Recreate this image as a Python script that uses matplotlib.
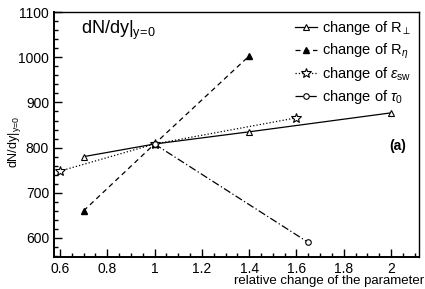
import numpy as np
import matplotlib
matplotlib.use('Agg')
import matplotlib.pyplot as plt
from matplotlib.ticker import MultipleLocator

plt.rcParams['font.family'] = ['Liberation Sans', 'DejaVu Sans']
plt.rcParams['mathtext.fontset'] = 'custom'
plt.rcParams['mathtext.rm'] = 'Liberation Sans'
plt.rcParams['mathtext.it'] = 'Liberation Sans:italic'
plt.rcParams['mathtext.sf'] = 'Liberation Sans'

# 数据
x_rperp = [0.7, 1.0, 1.4, 2.0]
y_rperp = [780, 808, 835, 877]
x_reta = [0.7, 1.0, 1.4]
y_reta = [660, 808, 1003]
x_esw = [0.6, 1.0, 1.6]
y_esw = [748, 808, 866]
x_tau = [1.0, 1.65]
y_tau = [808, 590]
labels = [r'change of R$_{\perp}$', r'change of R$_{\eta}$',
          r'change of $\epsilon_{\mathrm{sw}}$', r'change of $\tau_{0}$']
xticks = [0.6, 0.8, 1.0, 1.2, 1.4, 1.6, 1.8, 2.0]
xticklabels = ['0.6', '0.8', '1', '1.2', '1.4', '1.6', '1.8', '2']

fig = plt.figure(figsize=(4.25, 2.89), dpi=100)
ax = fig.add_axes([0.127, 0.111, 0.859, 0.847])

ax.plot(x_rperp, y_rperp, '-', color='black', lw=0.9, marker='^', ms=5,
        mfc='white', mec='black', mew=0.8, label=labels[0])
ax.plot(x_reta, y_reta, '--', color='black', lw=0.9, dashes=(4, 3), marker='^',
        ms=4, mfc='black', mec='black', label=labels[1])
ax.plot(x_esw, y_esw, ':', color='black', lw=0.9, marker='*', ms=7,
        mfc='white', mec='black', mew=0.8, label=labels[2])
ax.plot(x_tau, y_tau, color='black', lw=0.9, linestyle=(0, (6, 2, 1, 2)),
        marker='o', ms=4, mfc='white', mec='black', mew=0.8, label=labels[3])

ax.set_xlim(0.575, 2.118)
ax.set_ylim(558, 1100)
ax.xaxis.set_minor_locator(MultipleLocator(0.05))
ax.yaxis.set_major_locator(MultipleLocator(100))
ax.yaxis.set_minor_locator(MultipleLocator(20))
ax.tick_params(which='both', direction='in', top=False, right=False, labelsize=10)
ax.tick_params(which='major', length=6, width=1)
ax.tick_params(which='minor', length=3, width=1)
ax.set_xticks(xticks)
ax.set_xticklabels(xticklabels)
for s in ax.spines.values():
    s.set_linewidth(1.0)
ax.spines['left'].set_linewidth(1.4)
ax.spines['bottom'].set_linewidth(1.4)

fig.text(0.997, 0.028, 'relative change of the parameter', fontsize=9.5,
         ha='right', va='center')
fig.text(0.035, 0.51, r'dN/dy$|_{\mathrm{y\!=\!0}}$', fontsize=9, rotation=90,
         ha='center', va='center')

ax.text(0.075, 0.925, r'dN/dy$|_{\mathrm{y\!=\!0}}$', transform=ax.transAxes,
        fontsize=13, va='center', ha='left')
ax.text(0.965, 0.455, '(a)', transform=ax.transAxes, fontsize=10,
        fontweight='bold', ha='right', va='center')

ax.legend(loc='upper right', frameon=False, fontsize=10.5, handlelength=1.5,
          handletextpad=0.4, labelspacing=0.3, borderaxespad=0.1)

fig.savefig('out.png', dpi=100)
